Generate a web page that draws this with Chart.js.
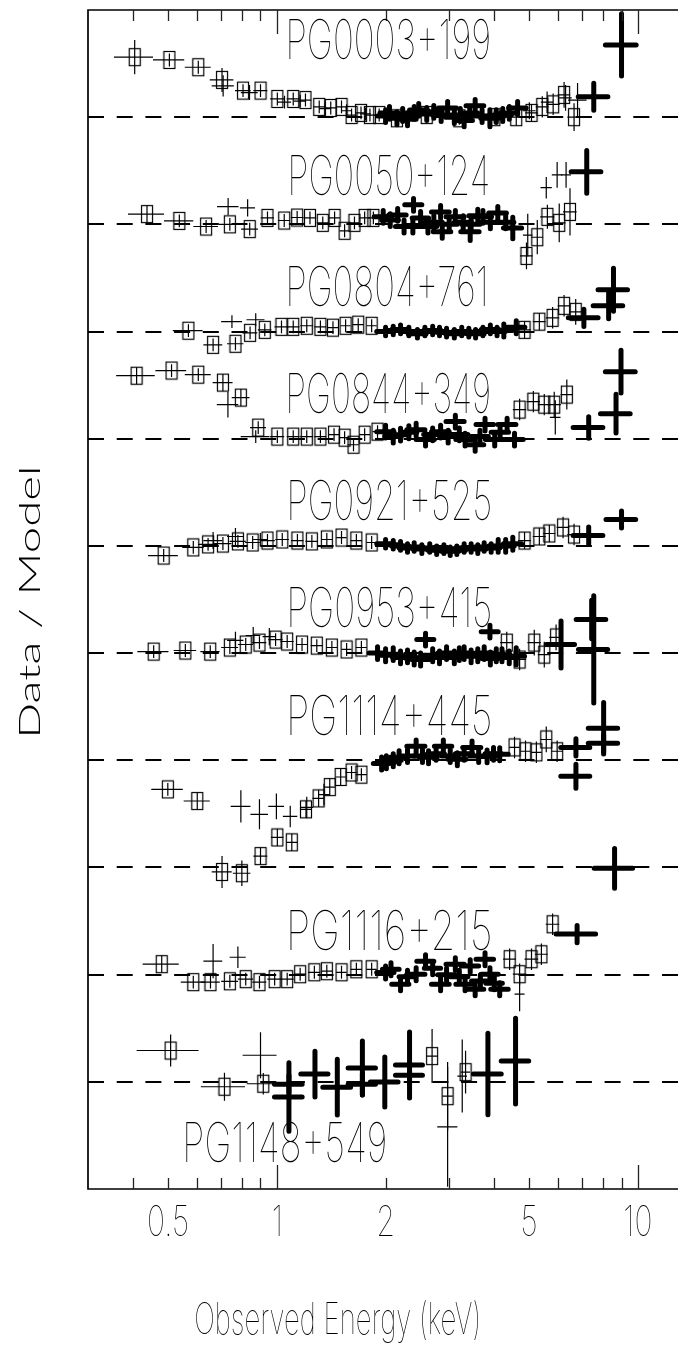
<!DOCTYPE html>
<html>
<head>
<meta charset="utf-8">
<script src="https://cdn.jsdelivr.net/npm/chart.js@4"></script>
<style>
  html, body { margin: 0; padding: 0; background: #fff; overflow: hidden; }
  #wrap { width: 685px; height: 1372px; position: relative; }
</style>
</head>
<body>
<div id="wrap"><canvas id="chart" width="685" height="1372"></canvas></div>
<script>
/////////////
// Data: each point is [energy keV, data/model, energy half-width keV, ratio error]
var names = ['PG0003+199', 'PG0050+124', 'PG0804+761', 'PG0844+349', 'PG0921+525',
             'PG0953+415', 'PG1114+445', '', 'PG1116+215', 'PG1148+549'];
var offsets = [5.0, 4.5, 4.0, 3.5, 3.0, 2.5, 2.0, 1.5, 1.0, 0.5];// unity line of each spectrum

var majorTicks = [1, 10];
var minorTicks = [0.4, 0.5, 0.6, 0.7, 0.8, 0.9, 2, 3, 4, 5, 6, 7, 8, 9];
var tickLabels = ['0.5', '1', '2', '5', '10'];
var tickLabelValues = [0.5, 1, 2, 5, 10];

var sq0003 = [[0.404,1.28,0.05,0.08],[0.504,1.267,0.05,0.03],[0.606,1.233,0.05,0.03],[0.705,1.174,0.053,0.056],[0.806,1.124,0.04,0.03],[0.901,1.124,0.04,0.03],[1.003,1.085,0.045,0.03],[1.11,1.085,0.045,0.03],[1.2,1.08,0.045,0.03],[1.31,1.048,0.05,0.03],[1.41,1.043,0.05,0.03],[1.51,1.048,0.05,0.03],[1.61,1.01,0.055,0.03],[1.71,1.02,0.055,0.03],[1.81,1.01,0.06,0.03],[1.92,1.01,0.06,0.03],[2.15,0.995,0.07,0.03],[2.6,1.01,0.08,0.03],[3.2,0.995,0.1,0.03],[4.0,1.0,0.13,0.03],[4.6,1.0,0.15,0.04],[5.07,1.02,0.2,0.04],[5.43,1.048,0.22,0.05],[5.82,1.06,0.25,0.05],[6.24,1.104,0.25,0.06],[6.65,1.0,0.28,0.065]];
var th0003 = [[0.71,1.146,0.05,0.05],[0.84,1.115,0.045,0.035],[1.05,1.07,0.045,0.03],[1.16,1.075,0.045,0.03],[1.36,1.04,0.05,0.03],[1.56,1.03,0.05,0.03],[1.76,1.015,0.06,0.03],[5.0,1.03,0.2,0.04],[5.6,1.07,0.22,0.05],[6.3,1.09,0.25,0.06],[6.8,1.08,0.4,0.08]];
var bd0003 = [[2.0,1.005,0.1,0.03],[2.05,1.02,0.12,0.03],[2.15,0.995,0.12,0.03],[2.23,1.01,0.13,0.03],[2.3,0.99,0.13,0.03],[2.4,1.02,0.13,0.03],[2.47,1.034,0.14,0.03],[2.6,1.015,0.14,0.03],[2.72,1.025,0.15,0.03],[2.85,1.01,0.15,0.03],[2.97,1.043,0.17,0.03],[3.1,1.0,0.17,0.03],[3.22,1.01,0.18,0.03],[3.3,0.985,0.18,0.03],[3.42,1.02,0.18,0.03],[3.54,1.053,0.2,0.03],[3.7,1.005,0.2,0.03],[3.89,0.995,0.22,0.04],[4.05,1.005,0.22,0.03],[4.22,1.01,0.24,0.03],[4.4,1.02,0.24,0.03],[4.64,1.043,0.26,0.03],[7.54,1.095,0.71,0.063],[9.0,1.337,0.88,0.145]];

var sq0050 = [[0.437,1.048,0.05,0.04],[0.537,1.016,0.05,0.03],[0.637,0.99,0.05,0.03],[0.741,1.0,0.05,0.03],[0.841,0.978,0.045,0.03],[0.942,1.03,0.04,0.03],[1.048,1.018,0.04,0.03],[1.138,1.032,0.045,0.03],[1.235,1.03,0.05,0.03],[1.34,1.007,0.05,0.03],[1.445,1.03,0.05,0.03],[1.54,0.97,0.05,0.03],[1.64,1.007,0.05,0.03],[1.75,1.03,0.06,0.03],[1.85,1.03,0.06,0.03],[4.91,0.853,0.2,0.062],[5.26,0.94,0.2,0.08],[5.61,1.035,0.25,0.056],[6.05,1.007,0.25,0.09],[6.48,1.058,0.28,0.11]];
var th0050 = [[0.733,1.083,0.05,0.04],[0.83,1.077,0.04,0.04],[4.95,0.95,0.15,0.1],[5.57,1.171,0.2,0.05],[5.97,1.231,0.2,0.06],[6.32,1.231,0.2,0.06]];
var bd0050 = [[1.97,1.035,0.11,0.03],[2.06,1.02,0.11,0.03],[2.16,1.044,0.12,0.03],[2.25,0.99,0.12,0.03],[2.38,0.99,0.13,0.03],[2.39,1.091,0.13,0.03],[2.5,1.03,0.13,0.03],[2.62,0.99,0.15,0.03],[2.72,1.01,0.15,0.03],[2.84,1.058,0.16,0.03],[2.87,0.965,0.16,0.03],[3.0,1.0,0.16,0.03],[3.12,1.035,0.18,0.03],[3.28,1.01,0.18,0.03],[3.43,0.965,0.2,0.04],[3.45,1.0,0.2,0.03],[3.6,1.04,0.2,0.03],[3.72,1.035,0.21,0.03],[3.9,1.01,0.21,0.03],[4.09,1.053,0.23,0.03],[4.3,1.01,0.23,0.03],[4.5,0.983,0.26,0.05],[7.21,1.245,0.68,0.1]];

var sq0804 = [[0.569,1.004,0.054,0.03],[0.666,0.938,0.04,0.03],[0.768,0.943,0.04,0.03],[0.843,0.994,0.04,0.03],[0.926,1.008,0.04,0.03],[1.03,1.022,0.045,0.03],[1.11,1.022,0.045,0.03],[1.21,1.027,0.05,0.03],[1.32,1.022,0.05,0.03],[1.43,1.018,0.05,0.03],[1.55,1.027,0.05,0.03],[1.68,1.032,0.06,0.03],[1.83,1.027,0.06,0.03],[4.85,1.008,0.2,0.04],[5.33,1.046,0.22,0.04],[5.8,1.064,0.25,0.05],[6.24,1.12,0.25,0.05],[6.72,1.092,0.28,0.06]];
var th0804 = [[0.751,1.046,0.05,0.03],[0.874,1.055,0.05,0.03]];
var bd0804 = [[2.0,1.0,0.11,0.02],[2.1,1.005,0.11,0.02],[2.2,1.01,0.12,0.02],[2.32,1.0,0.12,0.02],[2.45,0.99,0.14,0.02],[2.57,1.0,0.14,0.02],[2.7,1.005,0.15,0.02],[2.82,1.0,0.15,0.02],[2.95,0.995,0.17,0.02],[3.1,0.99,0.17,0.02],[3.25,1.0,0.18,0.02],[3.4,0.995,0.18,0.02],[3.55,0.99,0.2,0.02],[3.72,1.0,0.2,0.02],[3.9,1.01,0.22,0.02],[4.07,1.0,0.22,0.02],[4.25,1.005,0.24,0.03],[4.6,1.02,0.26,0.03],[7.08,1.064,0.67,0.04],[8.29,1.12,0.78,0.06],[8.55,1.195,0.8,0.1]];

var sq0844 = [[0.409,1.294,0.05,0.04],[0.511,1.318,0.05,0.03],[0.606,1.299,0.05,0.03],[0.709,1.262,0.045,0.04],[0.795,1.192,0.045,0.04],[0.888,1.052,0.045,0.03],[1.003,1.01,0.045,0.03],[1.11,1.01,0.045,0.03],[1.21,1.01,0.05,0.03],[1.32,1.01,0.05,0.03],[1.44,1.019,0.05,0.03],[1.54,1.005,0.05,0.03],[1.63,0.972,0.06,0.03],[1.75,1.019,0.06,0.03],[1.9,1.033,0.06,0.03],[4.7,1.136,0.2,0.05],[5.13,1.173,0.22,0.05],[5.5,1.159,0.22,0.05],[5.86,1.159,0.25,0.06],[6.35,1.206,0.25,0.07]];
var th0844 = [[0.732,1.159,0.05,0.06],[0.874,1.01,0.08,0.03],[5.9,1.1,0.2,0.08]];
var bd0844 = [[2.0,1.033,0.11,0.03],[2.1,1.01,0.11,0.03],[2.2,1.019,0.12,0.03],[2.32,1.03,0.12,0.03],[2.43,1.042,0.14,0.03],[2.58,0.996,0.15,0.03],[2.7,1.02,0.15,0.03],[2.84,1.033,0.16,0.03],[2.98,1.01,0.16,0.03],[3.12,1.08,0.18,0.03],[3.2,1.02,0.18,0.03],[3.32,0.996,0.19,0.03],[3.54,0.972,0.2,0.03],[3.65,1.01,0.2,0.03],[3.77,1.066,0.21,0.03],[4.01,0.996,0.23,0.03],[4.15,1.03,0.23,0.03],[4.34,1.066,0.25,0.03],[4.55,0.996,0.26,0.03],[7.3,1.052,0.69,0.05],[8.69,1.117,0.82,0.09],[8.97,1.313,0.85,0.1]];

var sq0921 = [[0.486,0.955,0.046,0.03],[0.587,0.993,0.04,0.03],[0.645,1.007,0.04,0.03],[0.709,1.011,0.04,0.03],[0.78,1.021,0.04,0.03],[0.857,1.016,0.04,0.03],[0.942,1.025,0.045,0.03],[1.035,1.03,0.045,0.03],[1.14,1.025,0.045,0.03],[1.25,1.021,0.05,0.03],[1.375,1.03,0.05,0.03],[1.51,1.039,0.05,0.03],[1.66,1.025,0.06,0.03],[1.83,1.016,0.06,0.03],[4.85,1.025,0.2,0.04],[5.33,1.044,0.22,0.04],[5.68,1.058,0.22,0.04],[6.2,1.086,0.25,0.05],[6.65,1.053,0.28,0.05]];
var th0921 = [[0.666,1.025,0.04,0.04],[0.768,1.044,0.04,0.04],[0.9,1.03,0.04,0.03]];
var bd0921 = [[2.0,1.01,0.11,0.02],[2.1,1.005,0.11,0.02],[2.2,1.0,0.12,0.02],[2.3,0.99,0.12,0.02],[2.4,0.995,0.14,0.02],[2.52,0.985,0.14,0.02],[2.65,0.99,0.15,0.02],[2.77,0.98,0.15,0.02],[2.9,0.985,0.17,0.02],[3.02,0.975,0.17,0.02],[3.15,0.98,0.18,0.02],[3.3,0.99,0.18,0.02],[3.45,0.99,0.2,0.02],[3.6,0.985,0.2,0.02],[3.75,0.995,0.22,0.02],[3.92,0.99,0.22,0.02],[4.1,1.0,0.24,0.03],[4.3,1.0,0.24,0.03],[4.5,1.01,0.26,0.03],[7.3,1.048,0.69,0.04],[9.0,1.123,0.85,0.04]];

var sq0953 = [[0.456,1.007,0.045,0.03],[0.558,1.012,0.04,0.03],[0.654,1.007,0.04,0.03],[0.741,1.026,0.04,0.03],[0.82,1.04,0.04,0.03],[0.895,1.049,0.04,0.03],[0.992,1.063,0.045,0.03],[1.068,1.054,0.045,0.03],[1.174,1.04,0.045,0.03],[1.29,1.035,0.05,0.03],[1.42,1.026,0.05,0.03],[1.56,1.017,0.05,0.03],[1.714,1.026,0.06,0.03],[4.33,1.049,0.18,0.05],[4.7,0.97,0.2,0.05],[5.16,1.049,0.22,0.06],[5.5,0.993,0.22,0.06],[5.93,1.073,0.25,0.06]];
var th0953 = [[0.768,1.059,0.04,0.04],[0.86,1.082,0.04,0.04],[0.953,1.077,0.04,0.04]];
var bd0953 = [[1.9,1.0,0.1,0.03],[2.0,0.99,0.1,0.03],[2.1,0.995,0.11,0.03],[2.2,0.98,0.11,0.03],[2.3,0.985,0.12,0.03],[2.4,0.975,0.12,0.03],[2.5,0.97,0.14,0.03],[2.58,1.063,0.14,0.03],[2.7,0.99,0.15,0.03],[2.82,0.98,0.15,0.03],[2.95,1.0,0.16,0.03],[3.1,0.98,0.17,0.03],[3.2,0.995,0.17,0.03],[3.3,1.0,0.18,0.03],[3.45,0.985,0.18,0.03],[3.6,0.99,0.2,0.03],[3.75,1.0,0.2,0.03],[3.89,1.1,0.21,0.03],[3.9,0.975,0.21,0.03],[4.05,0.99,0.21,0.03],[4.2,0.99,0.23,0.03],[4.4,0.98,0.23,0.03],[4.6,0.985,0.25,0.04],[6.12,1.04,0.55,0.11],[7.44,1.157,0.7,0.09],[7.54,1.017,0.7,0.25]];

var sq1114 = [[0.499,0.864,0.05,0.03],[0.602,0.81,0.05,0.04],[0.705,0.479,0.045,0.075],[0.8,0.473,0.045,0.06],[0.901,0.553,0.04,0.04],[1.003,0.64,0.04,0.04],[1.1,0.617,0.04,0.04],[1.204,0.771,0.045,0.04],[1.305,0.822,0.05,0.04],[1.401,0.875,0.05,0.04],[1.502,0.922,0.05,0.04],[1.61,0.943,0.06,0.03],[1.714,0.933,0.06,0.03],[4.55,1.06,0.15,0.05],[4.88,1.042,0.16,0.05],[5.23,1.037,0.18,0.05],[5.57,1.097,0.2,0.06],[5.97,1.042,0.22,0.05]];
var th1114 = [[0.795,0.785,0.05,0.075],[0.895,0.748,0.05,0.07],[0.997,0.785,0.05,0.06],[1.089,0.738,0.05,0.05],[1.21,0.78,0.05,0.05],[1.35,0.84,0.05,0.05]];
var bd1114 = [[1.95,0.985,0.1,0.03],[2.01,0.991,0.11,0.03],[2.1,1.0,0.11,0.03],[2.18,1.014,0.12,0.03],[2.3,1.02,0.12,0.03],[2.43,1.065,0.14,0.03],[2.53,1.02,0.14,0.03],[2.63,1.014,0.15,0.03],[2.76,1.03,0.15,0.03],[2.89,1.065,0.16,0.03],[3.02,1.02,0.16,0.03],[3.16,1.005,0.18,0.03],[3.3,1.03,0.18,0.03],[3.47,1.06,0.2,0.03],[3.62,1.02,0.2,0.03],[3.82,1.018,0.21,0.03],[3.98,1.03,0.21,0.03],[4.14,1.028,0.23,0.03],[6.73,1.06,0.62,0.04],[6.73,0.925,0.62,0.056],[8.03,1.149,0.75,0.12],[8.03,1.079,0.75,0.04]];
var bdLow = [[8.61,0.996,1.05,0.093]];

var sq1116 = [[0.48,1.049,0.055,0.04],[0.587,0.965,0.045,0.03],[0.655,0.965,0.04,0.03],[0.741,0.969,0.04,0.03],[0.82,0.979,0.04,0.03],[0.895,0.965,0.04,0.03],[0.986,0.979,0.045,0.03],[1.068,0.979,0.045,0.03],[1.16,1.002,0.045,0.03],[1.27,1.011,0.05,0.03],[1.375,1.016,0.05,0.03],[1.51,1.011,0.05,0.03],[1.66,1.025,0.06,0.03],[1.83,1.025,0.06,0.03],[4.41,1.072,0.18,0.05],[4.7,1.002,0.2,0.05],[5.07,1.072,0.22,0.05],[5.4,1.095,0.22,0.05],[5.8,1.235,0.25,0.05]];
var th1116 = [[0.666,1.063,0.04,0.08],[0.78,1.081,0.04,0.05],[4.7,0.909,0.15,0.08]];
var bd1116 = [[2.0,1.01,0.11,0.03],[2.07,1.025,0.11,0.03],[2.2,0.955,0.12,0.03],[2.3,0.99,0.12,0.03],[2.43,1.002,0.14,0.03],[2.58,1.063,0.14,0.03],[2.7,1.03,0.14,0.03],[2.84,0.955,0.16,0.03],[2.95,1.0,0.16,0.03],[3.12,1.049,0.18,0.03],[3.2,0.99,0.18,0.03],[3.32,0.955,0.19,0.03],[3.43,1.04,0.19,0.03],[3.54,0.932,0.2,0.03],[3.66,0.97,0.2,0.03],[3.77,1.072,0.21,0.03],[3.89,1.002,0.21,0.03],[4.0,0.96,0.21,0.03],[4.14,0.932,0.23,0.03],[6.78,1.189,0.85,0.04]];

var sq1148 = [[0.508,1.146,0.099,0.075],[0.716,0.977,0.1,0.065],[0.917,0.991,0.092,0.05],[2.69,1.12,0.1,0.126],[2.97,0.933,0.1,0.16],[3.33,1.045,0.1,0.1]];
var th1148 = [[0.901,1.124,0.097,0.107],[2.97,0.79,0.19,0.28],[3.26,1.027,0.1,0.17]];
var bd1148 = [[1.08,0.989,0.095,0.04],[1.08,0.929,0.095,0.16],[1.275,1.036,0.11,0.107],[1.47,0.975,0.13,0.13],[1.725,1.064,0.15,0.126],[1.725,0.989,0.15,0.05],[1.99,0.999,0.175,0.117],[2.33,1.078,0.2,0.154],[2.33,1.031,0.2,0.04],[3.84,1.036,0.34,0.19],[4.58,1.097,0.4,0.2]];

var squares = [sq0003, sq0050, sq0804, sq0844, sq0921, sq0953, sq1114, [], sq1116, sq1148];
var thins = [th0003, th0050, th0804, th0844, th0921, th0953, th1114, [], th1116, th1148];
var bolds = [bd0003, bd0050, bd0804, bd0844, bd0921, bd0953, bd1114, bdLow, bd1116, bd1148];

// label boxes [left, top, width] for each spectrum name
var titleBox = [[289, 19, 200], [291, 155, 197], [289, 266, 196], [289, 373, 200], [290, 480, 200],
                [290, 587, 200], [290, 695, 200], null, [290, 910, 200], [186, 1122, 199]];

// Square marker image (open box)
var boxImg = document.createElement('canvas');
boxImg.width = 14; boxImg.height = 20;
(function () {
    var c = boxImg.getContext('2d');
    c.strokeStyle = '#000';
    c.lineWidth = 1.2;
    c.strokeRect(1.5, 1.5, 11, 17);
})();

function toPoints(list, off) {
    return list.map(function (p) {
        return { x: p[0], y: p[1] - 1 + off, dx: p[2], dy: p[3] };
    });
}

var datasets = [];
for (var k = 0; k < names.length; k++) {
    datasets.push({ label: names[k] + ' thin', kind: 'th', data: toPoints(thins[k], offsets[k]), pointRadius: 0 });
    datasets.push({ label: names[k] + ' bold', kind: 'bd', data: toPoints(bolds[k], offsets[k]), pointRadius: 0 });
    datasets.push({ label: names[k] + ' box', kind: 'sq', data: toPoints(squares[k], offsets[k]), pointStyle: boxImg, pointRadius: 6 });
}

// Draw text so that its capital height and ink width are fixed
function capText(ctx, str, x0, top, w, capH, font) {
    ctx.save();
    ctx.font = font;
    var cap = ctx.measureText('H').actualBoundingBoxAscent;
    var m = ctx.measureText(str);
    var iw = m.actualBoundingBoxLeft + m.actualBoundingBoxRight;
    ctx.translate(x0, top + capH);
    ctx.scale(w / iw, capH / cap);
    ctx.fillStyle = '#000';
    ctx.textAlign = 'left';
    ctx.textBaseline = 'alphabetic';
    ctx.fillText(str, m.actualBoundingBoxLeft, 0);
    ctx.restore();
}

var errBars = {
    id: 'errBars',
    beforeDatasetsDraw: function (chart) {
        var ctx = chart.ctx, xs = chart.scales.x, ys = chart.scales.y, area = chart.chartArea;
        ctx.save();
        ctx.beginPath();
        ctx.rect(area.left, area.top, area.right - area.left, area.bottom - area.top);
        ctx.clip();

        // dashed unity lines
        ctx.strokeStyle = '#000';
        ctx.lineWidth = 2;
        ctx.setLineDash([16, 12.7]);
        offsets.forEach(function (o) {
            var y = Math.round(ys.getPixelForValue(o));
            ctx.beginPath();
            ctx.moveTo(area.left, y);
            ctx.lineTo(area.right, y);
            ctx.stroke();
        });
        ctx.setLineDash([]);

        // error bars: thin first, then boxes, then bold
        ['th', 'sq', 'bd'].forEach(function (kind) {
            chart.data.datasets.forEach(function (ds) {
                if (ds.kind !== kind) return;
                ctx.lineWidth = kind === 'bd' ? 5 : 1.2;
                ctx.lineCap = kind === 'bd' ? 'round' : 'butt';
                ds.data.forEach(function (p) {
                    var px = xs.getPixelForValue(p.x), py = ys.getPixelForValue(p.y);
                    ctx.beginPath();
                    ctx.moveTo(xs.getPixelForValue(p.x - p.dx), py);
                    ctx.lineTo(xs.getPixelForValue(p.x + p.dx), py);
                    ctx.moveTo(px, ys.getPixelForValue(p.y - p.dy));
                    ctx.lineTo(px, ys.getPixelForValue(p.y + p.dy));
                    ctx.stroke();
                });
            });
        });
        ctx.restore();
    },
    afterDraw: function (chart) {
        var ctx = chart.ctx, xs = chart.scales.x, area = chart.chartArea;
        ctx.save();
        ctx.strokeStyle = '#000';
        ctx.lineWidth = 1.7;
        ctx.beginPath();
        ctx.moveTo(area.right, area.top);
        ctx.lineTo(area.left, area.top);
        ctx.lineTo(area.left, area.bottom);
        ctx.lineTo(area.right, area.bottom);
        ctx.stroke();

        ctx.lineWidth = 1.3;
        ctx.strokeStyle = '#222';
        function tick(v, len) {
            var x = Math.round(xs.getPixelForValue(v)) + 0.5;
            ctx.beginPath();
            ctx.moveTo(x, area.top); ctx.lineTo(x, area.top + len);
            ctx.moveTo(x, area.bottom); ctx.lineTo(x, area.bottom - len);
            ctx.stroke();
        }
        minorTicks.forEach(function (v) { tick(v, 11); });
        majorTicks.forEach(function (v) { tick(v, 24); });

        var thinFont = '100 60px Inter, "Noto Sans", Roboto, sans-serif';
        tickLabels.forEach(function (t, i) {
            var cx = xs.getPixelForValue(tickLabelValues[i]);
            ctx.font = thinFont;
            var m = ctx.measureText(t);
            var cap = ctx.measureText('H').actualBoundingBoxAscent;
            var iw = (m.actualBoundingBoxLeft + m.actualBoundingBoxRight) * (31 / cap) * 0.72;
            capText(ctx, t, cx - iw / 2, 1205, iw, 31, thinFont);
        });

        names.forEach(function (n, k) {
            var b = titleBox[k];
            if (!b) return;
            capText(ctx, n, b[0], b[1], b[2], 40, thinFont);
        });

        capText(ctx, 'Observed Energy (keV)', 196, 1302, 282, 32, thinFont);

        ctx.save();
        ctx.translate(30, 602);
        ctx.rotate(-Math.PI / 2);
        capText(ctx, 'Data / Model', -132, -10, 265, 20, '300 40px Lato, sans-serif');
        ctx.restore();
        ctx.restore();
    }
};

new Chart(document.getElementById('chart'), {
    type: 'scatter',
    data: { datasets: datasets },
    options: {
        responsive: false,
        animation: false,
        devicePixelRatio: 1,
        layout: { padding: { left: 88, top: 10, right: 0, bottom: 183 } },
        plugins: { legend: { display: false }, tooltip: { enabled: false } },
        scales: {
            x: { type: 'logarithmic', min: 0.3, max: 12.9, display: false },
            y: { type: 'linear', min: 0, max: 5.5, display: false }
        }
    },
    plugins: [errBars]
});
</script>
</body>
</html>
